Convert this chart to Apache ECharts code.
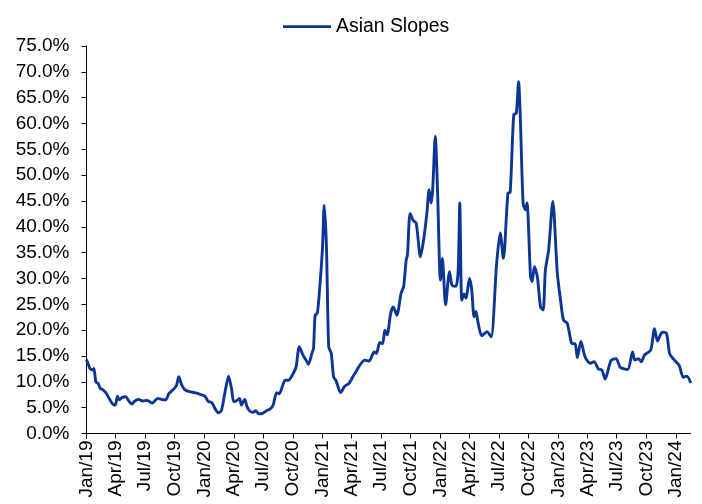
<!DOCTYPE html>
<html>
<head>
<meta charset="utf-8">
<script src="https://cdn.jsdelivr.net/npm/echarts@6/dist/echarts.min.js"></script>
<style>
  html, body { margin: 0; padding: 0; background: #fff; }
  #chart { width: 702px; height: 504px; }
</style>
</head>
<body>
<div id="chart"></div>
<script>
// Asian Slopes, weekly readings (percent)
const seriesName = 'Asian Slopes';

const dates = [
  '2019-01-01','2019-01-09','2019-01-11','2019-01-21','2019-01-24','2019-01-30','2019-02-06','2019-02-13','2019-02-20','2019-03-02',
  '2019-03-12','2019-03-23','2019-03-31','2019-04-07','2019-04-12','2019-04-22','2019-05-03','2019-05-13','2019-05-22','2019-05-29',
  '2019-06-11','2019-06-24','2019-07-09','2019-07-23','2019-08-10','2019-08-20','2019-09-03','2019-09-13','2019-09-25','2019-10-06',
  '2019-10-14','2019-10-22','2019-11-01','2019-11-16','2019-12-02','2019-12-17','2020-01-03','2020-01-13','2020-01-24','2020-02-03',
  '2020-02-13','2020-02-23','2020-03-04','2020-03-16','2020-03-25','2020-04-01','2020-04-11','2020-04-19','2020-04-25','2020-05-05',
  '2020-05-12','2020-05-21','2020-05-31','2020-06-08','2020-06-18','2020-06-29','2020-07-11','2020-07-24','2020-08-01','2020-08-12',
  '2020-08-20','2020-09-07','2020-09-17','2020-10-02','2020-10-11','2020-10-21','2020-11-01','2020-11-11','2020-11-18','2020-11-29',
  '2020-12-04','2020-12-09','2020-12-16','2020-12-25','2021-01-01','2021-01-06','2021-01-13','2021-01-20','2021-01-28','2021-02-04',
  '2021-02-12','2021-02-26','2021-03-11','2021-03-24','2021-04-04','2021-04-14','2021-04-26','2021-05-12','2021-05-25','2021-06-10',
  '2021-06-17','2021-06-27','2021-07-06','2021-07-13','2021-07-20','2021-07-31','2021-08-08','2021-08-19','2021-09-01','2021-09-09',
  '2021-09-17','2021-09-21','2021-09-29','2021-10-08','2021-10-18','2021-10-31','2021-11-10','2021-11-20','2021-11-27','2021-12-03',
  '2021-12-08','2021-12-16','2021-12-23','2022-01-01','2022-01-07','2022-01-17','2022-01-29','2022-02-06','2022-02-18','2022-02-25',
  '2022-03-02','2022-03-08','2022-03-15','2022-03-21','2022-04-01','2022-04-08','2022-04-15','2022-04-21','2022-04-28','2022-05-09',
  '2022-05-25','2022-06-07','2022-06-24','2022-07-05','2022-07-15','2022-07-29','2022-08-05','2022-08-16','2022-08-24','2022-08-31',
  '2022-09-05','2022-09-14','2022-09-21','2022-09-26','2022-10-07','2022-10-12','2022-10-19','2022-10-28','2022-11-07','2022-11-15',
  '2022-11-22','2022-12-02','2022-12-15','2022-12-29','2023-01-08','2023-01-17','2023-01-29','2023-02-13','2023-02-22','2023-03-01',
  '2023-03-12','2023-03-25','2023-04-10','2023-04-22','2023-05-05','2023-05-16','2023-05-26','2023-06-13','2023-06-29','2023-07-12',
  '2023-08-04','2023-08-19','2023-08-26','2023-09-06','2023-09-15','2023-09-25','2023-10-14','2023-10-26','2023-11-04','2023-11-19',
  '2023-12-02','2023-12-12','2023-12-25','2024-01-10','2024-01-23','2024-02-03','2024-02-15'
];

const values = [
  14.3,13.0,12.6,12.3,12.6,10.0,9.7,8.7,8.5,7.9,
  6.8,5.7,5.5,7.2,6.5,7.0,7.1,6.2,5.7,6.2,
  6.6,6.3,6.4,5.9,6.8,6.6,6.5,7.7,8.4,9.2,
  11.0,9.5,8.5,8.1,7.9,7.6,7.2,6.2,6.0,4.8,
  4.0,4.5,7.7,11.1,8.7,6.2,6.4,6.8,5.5,6.6,
  5.2,4.3,4.1,4.4,3.8,3.9,4.4,4.8,5.5,7.9,
  7.7,10.3,10.3,11.6,12.9,16.8,15.2,14.2,13.4,15.5,
  16.5,22.9,23.3,29.7,36.2,44.2,36.2,16.8,15.5,11.0,
  10.2,7.9,9.2,9.7,10.9,11.9,13.2,14.2,14.0,15.8,
  15.5,17.6,17.4,20.0,19.1,23.3,24.5,22.9,27.1,28.4,
  33.6,34.6,42.6,41.3,40.7,34.2,37.5,42.6,47.2,44.6,
  47.2,57.5,47.2,29.7,33.9,24.9,31.3,28.7,28.5,31.6,
  44.6,25.8,27.0,26.2,30.0,27.8,22.6,23.6,21.3,18.9,
  19.7,18.7,32.9,38.8,33.9,46.5,46.7,61.7,62.0,68.1,
  62.0,44.6,43.3,44.6,30.4,29.4,32.3,30.4,24.5,23.9,
  31.6,35.5,44.9,31.0,25.8,22.0,21.3,17.4,17.4,14.7,
  17.8,14.8,13.6,13.9,12.5,12.3,10.5,14.1,14.5,12.8,
  12.4,15.8,14.2,14.5,13.9,15.2,16.1,20.3,17.9,19.6,
  19.4,15.4,14.3,13.2,10.9,11.1,9.8
];

// Quarterly tick labels along the date axis
const tickLabels = [
  'Jan/19','Apr/19','Jul/19','Oct/19','Jan/20','Apr/20','Jul/20','Oct/20','Jan/21','Apr/21','Jul/21',
  'Oct/21','Jan/22','Apr/22','Jul/22','Oct/22','Jan/23','Apr/23','Jul/23','Oct/23','Jan/24'
];
const tickDates = [
  '2019-01-01','2019-04-01','2019-07-01','2019-10-01','2020-01-01','2020-04-01','2020-07-01','2020-10-01',
  '2021-01-01','2021-04-01','2021-07-01','2021-10-01','2022-01-01','2022-04-01','2022-07-01','2022-10-01',
  '2023-01-01','2023-04-01','2023-07-01','2023-10-01','2024-01-01'
];

// Days since the start of the axis, so the date axis stays linear in days
const DAY = 86400000;
const origin = Date.UTC(2019, 0, 1);
function dayIndex(s) {
  const p = s.split('-').map(Number);
  return Math.round((Date.UTC(p[0], p[1] - 1, p[2]) - origin) / DAY);
}

const points = dates.map((d, i) => [dayIndex(d), values[i]]);
const tickDays = tickDates.map(dayIndex);
const labelByDay = {};
tickDays.forEach((d, i) => { labelByDay[d] = tickLabels[i]; });

const font = 'Liberation Sans, Arial, sans-serif';
const lineColor = '#0b3694';
const chart = echarts.init(document.getElementById('chart'), null, { renderer: 'canvas' });

chart.setOption({
  animation: false,
  backgroundColor: '#ffffff',
  legend: {
    data: [{ name: seriesName, icon: 'rect' }],
    left: 283,
    top: 17,
    itemWidth: 48,
    itemHeight: 2.75,
    itemGap: 10,
    itemStyle: { color: lineColor },
    textStyle: { fontFamily: font, fontSize: 19.4, color: '#000', padding: [0, 0, 0, 0] },
    padding: 0
  },
  grid: {
    left: 86.5,
    right: 11.3,
    top: 46,
    bottom: 70.5,
    containLabel: false
  },
  xAxis: {
    type: 'value',
    min: 0,
    max: dayIndex('2024-02-15'),
    splitLine: { show: false },
    axisLine: { show: true, onZero: false, lineStyle: { color: '#000', width: 1 } },
    axisTick: {
      show: true,
      inside: false,
      length: 5,
      customValues: tickDays,
      lineStyle: { color: '#000', width: 1 }
    },
    axisLabel: {
      customValues: tickDays,
      rotate: 90,
      margin: 7,
      fontFamily: font,
      fontSize: 19,
      color: '#000',
      formatter: v => labelByDay[Math.round(v)] || ''
    }
  },
  yAxis: {
    type: 'value',
    min: 0,
    max: 75,
    interval: 5,
    splitLine: { show: false },
    axisLine: { show: true, lineStyle: { color: '#000', width: 1 } },
    axisTick: { show: true, inside: false, length: 5, lineStyle: { color: '#000', width: 1 } },
    axisLabel: {
      margin: 17,
      fontFamily: font,
      fontSize: 19,
      color: '#000',
      formatter: v => v.toFixed(1) + '%'
    }
  },
  series: [{
    name: seriesName,
    type: 'line',
    data: points,
    symbol: 'none',
    smooth: 0.25,
    lineStyle: { color: lineColor, width: 2.9 },
    itemStyle: { color: lineColor }
  }]
});
</script>
</body>
</html>
